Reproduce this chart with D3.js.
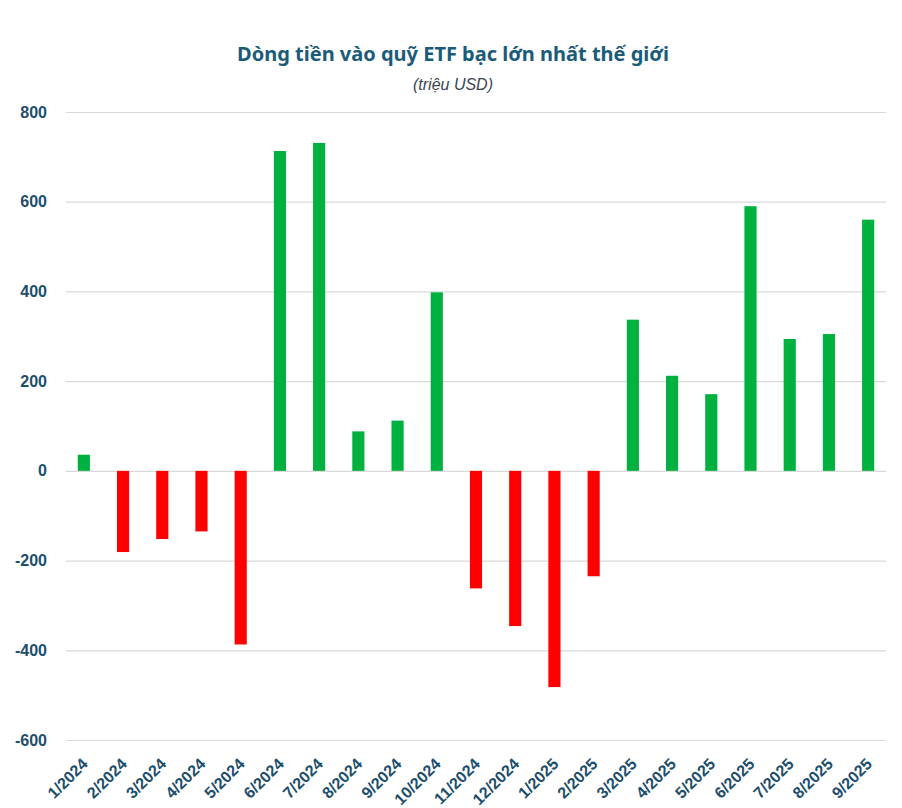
<!DOCTYPE html>
<html>
<head>
<meta charset="utf-8">
<script src="https://cdn.jsdelivr.net/npm/d3@7"></script>
<style>
  body { margin: 0; background: #fff; }
  svg { display: block; }
</style>
</head>
<body>
<svg id="root"></svg>
<script>
const months = ['1/2024', '2/2024', '3/2024', '4/2024', '5/2024', '6/2024', '7/2024',
  '8/2024', '9/2024', '10/2024', '11/2024', '12/2024', '1/2025', '2/2025', '3/2025',
  '4/2025', '5/2025', '6/2025', '7/2025', '8/2025', '9/2025'];
const flows = [36, -181, -152, -135, -387, 713, 731, 88, 112, 398, -262, -346, -482,
  -235, 337, 212, 171, 590, 294, 305, 560];
const yTicks = [-600, -400, -200, 0, 200, 400, 600, 800];

const width = 902;
const height = 808;
const margin = { top: 112, right: 16, bottom: 68, left: 66 };

const svg = d3.select('#root')
  .attr('width', width)
  .attr('height', height)
  .attr('viewBox', `0 0 ${width} ${height}`);

const x = d3.scaleBand()
  .domain(months)
  .range([margin.left, width - margin.right])
  .paddingInner(0.69)
  .paddingOuter(0.3);

const y = d3.scaleLinear()
  .domain([-600, 800])
  .range([height - margin.bottom, margin.top]);

// title
svg.append('text')
  .attr('x', 453)
  .attr('y', 61)
  .attr('text-anchor', 'middle')
  .attr('font-family', 'Noto Sans, sans-serif')
  .attr('font-weight', 'bold')
  .attr('font-size', 20)
  .attr('fill', '#1b5b7a')
  .text('Dòng tiền vào quỹ ETF bạc lớn nhất thế giới');

svg.append('text')
  .attr('x', 453)
  .attr('y', 90)
  .attr('text-anchor', 'middle')
  .attr('font-family', 'Liberation Sans, Arial, sans-serif')
  .attr('font-style', 'italic')
  .attr('font-size', 16)
  .attr('fill', '#3a4650')
  .text('(triệu USD)');

// gridlines + y labels
const yAxis = svg.append('g')
  .attr('transform', `translate(${margin.left},0)`)
  .call(d3.axisLeft(y)
    .tickValues(yTicks)
    .tickSize(-(width - margin.left - margin.right))
    .tickPadding(19)
    .tickFormat(d => String(d)));

yAxis.select('.domain').remove();
yAxis.selectAll('.tick line')
  .attr('stroke', '#d9d9d9')
  .attr('stroke-width', 1.2);
yAxis.selectAll('.tick text')
  .attr('font-family', 'Liberation Sans, Arial, sans-serif')
  .attr('font-weight', 'bold')
  .attr('font-size', 16)
  .attr('fill', '#1d4e6b');

// bars
svg.append('g')
  .selectAll('rect')
  .data(flows)
  .join('rect')
  .attr('x', (_, i) => x(months[i]))
  .attr('width', x.bandwidth())
  .attr('y', d => y(Math.max(0, d)))
  .attr('height', d => Math.abs(y(d) - y(0)))
  .attr('fill', d => (d >= 0 ? '#00b140' : '#ff0000'));

// x labels
const xAxis = svg.append('g')
  .attr('transform', `translate(0,${height - margin.bottom})`)
  .call(d3.axisBottom(x).tickSize(0).tickPadding(0));

xAxis.select('.domain').remove();
xAxis.selectAll('.tick text')
  .attr('font-family', 'Liberation Sans, Arial, sans-serif')
  .attr('font-weight', 'bold')
  .attr('font-size', 16)
  .attr('fill', '#1d4e6b')
  .attr('text-anchor', 'end')
  .attr('y', 0)
  .attr('dy', null)
  .attr('transform', 'translate(5,25) rotate(-45)');
</script>
</body>
</html>
